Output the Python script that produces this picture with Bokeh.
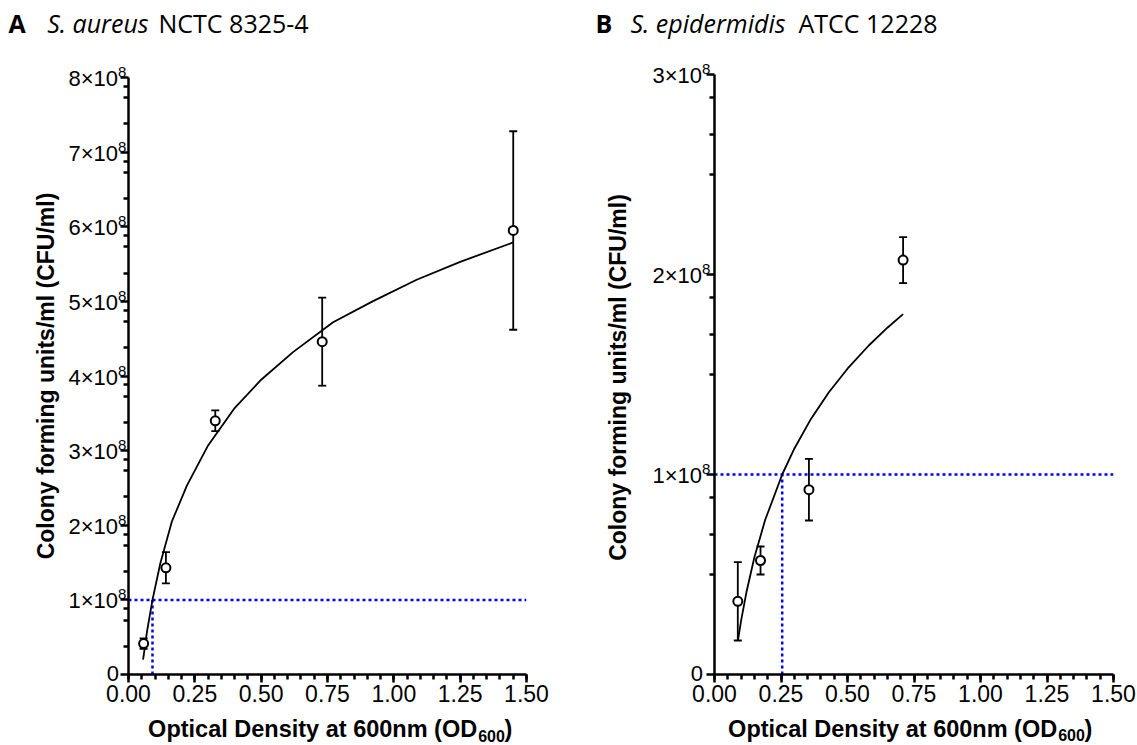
import math
from bokeh.plotting import figure
from bokeh.models import Range1d, FixedTicker, ColumnDataSource, GridBox
from bokeh.core.properties import value
from bokeh.embed import file_html
from bokeh.resources import INLINE

# ---------------- data ----------------
# Panel A: S. aureus NCTC 8325-4
od_a = [0.057, 0.141, 0.327, 0.73, 1.45]
cfu_a = [0.415e8, 1.43e8, 3.40e8, 4.46e8, 5.95e8]
err_a = [0.07e8, 0.21e8, 0.14e8, 0.59e8, 1.33e8]
fit_od_a = [0.055, 0.07, 0.0904, 0.12, 0.1635, 0.22, 0.30, 0.40, 0.50, 0.62, 0.771, 0.92, 1.086, 1.25, 1.45]
fit_cfu_a = [0.20e8, 0.58e8, 1.0e8, 1.49e8, 2.05e8, 2.53e8, 3.07e8, 3.57e8, 3.95e8, 4.32e8, 4.72e8, 5.00e8, 5.29e8, 5.53e8, 5.79e8]
cut_od_a = 0.0904

# Panel B: S. epidermidis ATCC 12228
od_b = [0.0876, 0.173, 0.355, 0.709]
cfu_b = [0.366e8, 0.57e8, 0.924e8, 2.072e8]
err_b = [0.196e8, 0.07e8, 0.154e8, 0.115e8]
fit_od_b = [0.088, 0.10, 0.12, 0.15, 0.19, 0.2545, 0.30, 0.36, 0.43, 0.50, 0.58, 0.65, 0.709]
fit_cfu_b = [0.168e8, 0.269e8, 0.411e8, 0.586e8, 0.771e8, 1.0e8, 1.129e8, 1.272e8, 1.411e8, 1.529e8, 1.645e8, 1.734e8, 1.802e8]
cut_od_b = 0.2545

threshold = 1e8

x_ticks = [0.0, 0.25, 0.5, 0.75, 1.0, 1.25, 1.5]
x_tick_labels = ["0.00", "0.25", "0.50", "0.75", "1.00", "1.25", "1.50"]
x_minor = [round(i * 0.05, 2) for i in range(31)]

y_ticks_a = [0, 1e8, 2e8, 3e8, 4e8, 5e8, 6e8, 7e8, 8e8]
y_tick_base_a = ["0", "1×10", "2×10", "3×10", "4×10", "5×10", "6×10", "7×10", "8×10"]
y_tick_exp_a = ["", "8", "8", "8", "8", "8", "8", "8", "8"]
y_minor_frac_a = [0.38, 0.73, 0.88]

y_ticks_b = [0, 1e8, 2e8, 3e8]
y_tick_base_b = ["0", "1×10", "2×10", "3×10"]
y_tick_exp_b = ["", "8", "8", "8"]
y_minor_frac_b = [0.5, 0.7, 0.886]

panel_letters = ["A", "B"]
species_names = ["S. aureus", "S. epidermidis"]
strain_names = ["NCTC 8325-4", "ATCC 12228"]

x_title = "Optical Density at 600nm (OD"
x_title_sub = "600"
x_title_end = ")"
y_title = "Colony forming units/ml (CFU/ml)"

AX_FONT = "Liberation Sans"
TITLE_FONT = "Open Sans"
W = 1137
TOP_H = 45
BOT_H = 28
PANEL_H = 745 - TOP_H - BOT_H


def bare(width, height, x_range, y_range, transparent=False):
    s = figure(width=width, height=height, x_range=x_range, y_range=y_range, title=None,
               output_backend="svg", toolbar_location=None,
               x_axis_location=None, y_axis_location=None, frame_align=False,
               min_border_left=0, min_border_right=0, min_border_top=0, min_border_bottom=0)
    s.xgrid.visible = False
    s.ygrid.visible = False
    s.outline_line_color = None
    if transparent:
        s.background_fill_color = None
        s.border_fill_color = None
    else:
        s.background_fill_color = "white"
        s.border_fill_color = "white"
    return s


def make_panel(width, left, right, top, bottom, ymax, od, cfu, err, fod, fcfu, cut,
               y_ticks, y_frac):
    p = figure(width=width, height=PANEL_H, x_range=Range1d(0, 1.5), y_range=Range1d(0, ymax),
               title=None, output_backend="svg", toolbar_location=None, frame_align=False,
               min_border_left=left, min_border_right=right,
               min_border_top=top, min_border_bottom=bottom)
    p.xgrid.visible = False
    p.ygrid.visible = False
    p.outline_line_color = None
    p.background_fill_color = "white"
    p.border_fill_color = "white"

    minor_y = []
    for i in range(len(y_ticks) - 1):
        lo, hi = y_ticks[i], y_ticks[i + 1]
        for f in y_frac:
            minor_y.append(lo + f * (hi - lo))
    p.xaxis.ticker = FixedTicker(ticks=x_ticks, minor_ticks=x_minor)
    p.yaxis.ticker = FixedTicker(ticks=y_ticks, minor_ticks=minor_y)
    p.xaxis.major_label_overrides = {v: s for v, s in zip(x_ticks, x_tick_labels)}
    # y tick labels (with real superscripts) are drawn on the overlay
    p.yaxis.major_label_overrides = {v: "" for v in y_ticks}
    for ax in (p.xaxis[0], p.yaxis[0]):
        ax.axis_line_width = 2.5
        ax.axis_line_color = "black"
        ax.major_tick_line_width = 2.5
        ax.minor_tick_line_width = 2.5
        ax.major_tick_line_color = "black"
        ax.minor_tick_line_color = "black"
        ax.major_tick_in = 0
        ax.minor_tick_in = 0
        ax.major_tick_out = 8
        ax.minor_tick_out = 5
        ax.major_label_text_font = AX_FONT
        ax.major_label_text_color = "black"
    p.xaxis.major_label_text_font_size = "23px"
    p.xaxis.major_label_standoff = 2

    # blue dotted guide lines
    p.line([0, 1.5], [threshold, threshold], line_color="#0000FF", line_width=2.5, line_dash="3 3")
    p.line([cut, cut], [0, threshold], line_color="#0000FF", line_width=2.5, line_dash="3 3")

    # fitted curve
    p.line(fod, fcfu, line_color="black", line_width=1.8)

    src = ColumnDataSource(dict(x=od, y=cfu,
                                lo=[c - e for c, e in zip(cfu, err)],
                                hi=[c + e for c, e in zip(cfu, err)]))
    p.segment(x0="x", y0="lo", x1="x", y1="hi", source=src, line_color="black", line_width=1.8)
    p.scatter(x="x", y="lo", source=src, marker="dash", size=8, line_color="black", line_width=1.8)
    p.scatter(x="x", y="hi", source=src, marker="dash", size=8, line_color="black", line_width=1.8)
    p.scatter(x="x", y="y", source=src, marker="circle", size=9, fill_color="white",
              line_color="black", line_width=2)
    return p


def make_overlay(width, left, right, top, bottom, ymax, y_ticks, bases, exps,
                 main_dx, sup_dx, title_dx, title_dy):
    # transparent layer over a panel with the same data->pixel mapping
    fw = width - left - right
    fh = PANEL_H - top - bottom
    kx = fw / 1.5
    ky = fh / ymax
    o = bare(width, PANEL_H, Range1d(-left / kx, (width - left) / kx),
             Range1d(-bottom / ky, ymax + top / ky), transparent=True)
    o.text(x=[0] * (len(y_ticks) - 1), y=y_ticks[1:], text=bases[1:], x_offset=main_dx, y_offset=1,
           text_font=value(AX_FONT), text_font_size=value("22px"), text_align="right",
           text_baseline="middle", text_color="black")
    o.text(x=[0], y=y_ticks[:1], text=bases[:1], x_offset=main_dx + 1, y_offset=-1,
           text_font=value(AX_FONT), text_font_size=value("22px"), text_align="right",
           text_baseline="middle", text_color="black")
    o.text(x=[0] * (len(y_ticks) - 1), y=y_ticks[1:], text=exps[1:], x_offset=sup_dx, y_offset=-5.5,
           text_font=value(AX_FONT), text_font_size=value("15px"), text_align="left",
           text_baseline="middle", text_color="black")
    o.text(x=[0], y=[ymax / 2], text=[y_title], x_offset=title_dx, y_offset=title_dy,
           angle=math.pi / 2, text_font=value(AX_FONT), text_font_size=value("23px"),
           text_font_style="bold", text_align="center", text_baseline="middle", text_color="black")
    return o


# ---- panels ----
bottom_b = TOP_H + PANEL_H - 674
pa = make_panel(560, 128, 34, 77 - TOP_H, bottom_b, 8e8, od_a, cfu_a, err_a,
                fit_od_a, fit_cfu_a, cut_od_a, y_ticks_a, y_minor_frac_a)
pb = make_panel(577, 154, 24, 74 - TOP_H, bottom_b, 3e8, od_b, cfu_b, err_b,
                fit_od_b, fit_cfu_b, cut_od_b, y_ticks_b, y_minor_frac_b)
oa = make_overlay(560, 128, 34, 77 - TOP_H, bottom_b, 8e8, y_ticks_a, y_tick_base_a, y_tick_exp_a,
                  -10.5, -10.5, -83, 0)
ob = make_overlay(577, 154, 24, 74 - TOP_H, bottom_b, 3e8, y_ticks_b, y_tick_base_b, y_tick_exp_b,
                  -12.5, -12.5, -97, 3)

# ---- title strip (pixel layout, text centred vertically) ----
top = bare(W, TOP_H, Range1d(0, W), Range1d(TOP_H, 0))
letter_x = [8, 595]
species_x = [46.7, 630]
strain_x = [158, 798]
title_mid = 22.5
top.text(x=letter_x, y=[title_mid] * 2, text=panel_letters, text_font=value(TITLE_FONT),
         text_font_size=value("25px"), text_font_style="bold", text_align="left",
         text_baseline="middle", text_color="black")
top.text(x=species_x, y=[title_mid] * 2, text=species_names, text_font=value(TITLE_FONT),
         text_font_size=value("25px"), text_font_style="italic", text_align="left",
         text_baseline="middle", text_color="black")
top.text(x=strain_x, y=[title_mid] * 2, text=strain_names, text_font=value(TITLE_FONT),
         text_font_size=value("25px"), text_font_style="normal", text_align="left",
         text_baseline="middle", text_color="black")

# ---- x-axis title strip (pixel layout, text centred vertically) ----
bot = bare(W, BOT_H, Range1d(0, W), Range1d(BOT_H, 0))
off = 745 - BOT_H
main_end = [476.7, 1056.7]
sub_mid = [735.5 - off, 734.5 - off]
paren_x = [504, 1084]
main_mid = 728 - off
bot.text(x=main_end, y=[main_mid] * 2, text=[x_title] * 2, text_font=value(AX_FONT),
         text_font_size=value("23.5px"), text_font_style="bold", text_align="right",
         text_baseline="middle", text_color="black")
bot.text(x=[v + 1 for v in main_end], y=sub_mid, text=[x_title_sub] * 2, text_font=value(AX_FONT),
         text_font_size=value("16px"), text_font_style="bold", text_align="left",
         text_baseline="middle", text_color="black")
bot.text(x=paren_x, y=[main_mid] * 2, text=[x_title_end] * 2, text_font=value(AX_FONT),
         text_font_size=value("23.5px"), text_font_style="bold", text_align="left",
         text_baseline="middle", text_color="black")

layout = GridBox(children=[(top, 0, 0, 1, 2), (pa, 1, 0), (pb, 1, 1), (oa, 1, 0), (ob, 1, 1),
                           (bot, 2, 0, 1, 2)], spacing=0)
open("out.html", "w").write(file_html(layout, INLINE))
